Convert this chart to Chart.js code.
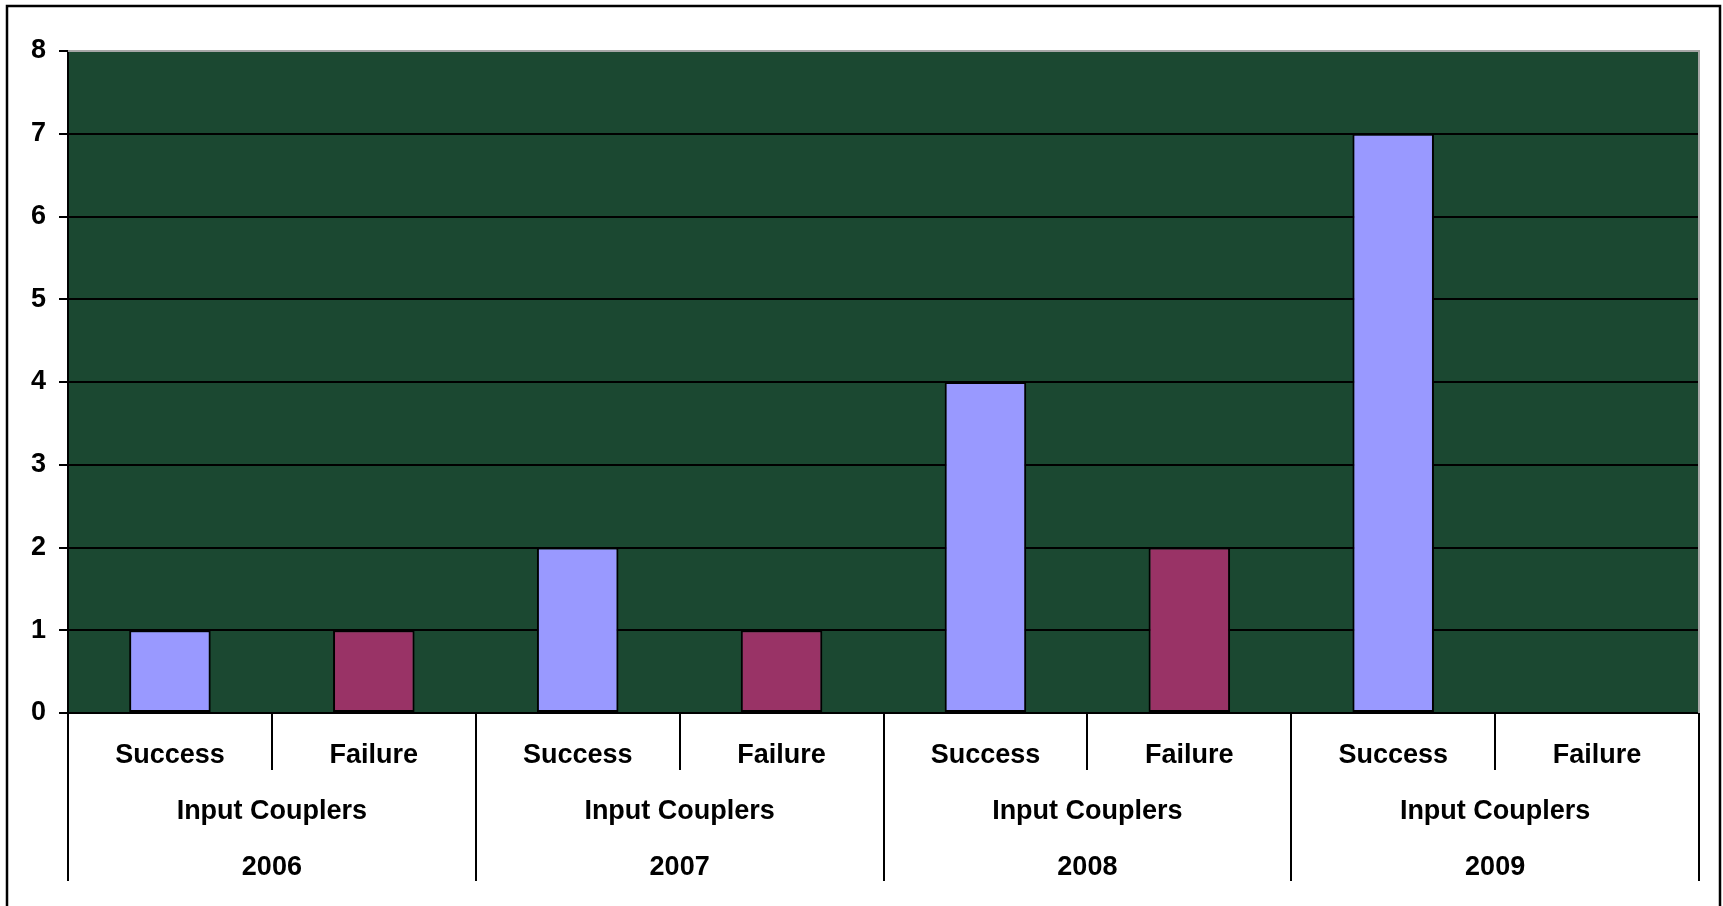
<!DOCTYPE html>
<html>
<head>
<meta charset="utf-8">
<script src="https://cdn.jsdelivr.net/npm/chart.js@4"></script>
<style>
  html, body { margin: 0; padding: 0; background: #ffffff; }
  #wrap { width: 1723px; height: 906px; }
</style>
</head>
<body>
<div id="wrap"><canvas id="c" width="1723" height="906"></canvas></div>
<script>
// Counts per year, split by outcome
const years = ['2006', '2007', '2008', '2009'];
const component = 'Input Couplers';
const outcomes = ['Success', 'Failure'];
const successCounts = [1, 2, 4, 7];
const failureCounts = [1, 1, 2, 0];
const yTicks = [0, 1, 2, 3, 4, 5, 6, 7, 8];

const outcomeColors = { Success: '#9999FF', Failure: '#993366' };
const FONT = '"Liberation Sans", Arial, sans-serif';

Chart.defaults.font.family = FONT;
Chart.defaults.font.weight = 'bold';
Chart.defaults.color = '#000000';

// Flatten into one category per (year, outcome)
const labels = [];
const values = [];
const colors = [];
years.forEach((y, i) => {
  outcomes.forEach(o => {
    labels.push(o);
    values.push(o === 'Success' ? successCounts[i] : failureCounts[i]);
    colors.push(outcomeColors[o]);
  });
});

// Plot background, frame and the multi-level category axis
const framePlugin = {
  id: 'frame',
  beforeDraw(chart) {
    const { ctx, chartArea: a } = chart;
    ctx.save();
    ctx.fillStyle = '#1B4831';
    ctx.fillRect(a.left, a.top, a.right - a.left, a.bottom - a.top);
    ctx.restore();
  },
  afterDraw(chart) {
    const { ctx, chartArea: a } = chart;
    const xs = chart.scales.x;
    const n = labels.length;
    const per = outcomes.length;
    const px = i => xs.getPixelForValue(i);
    const half = (px(1) - px(0)) / 2;

    ctx.save();
    // plot area border (top / right)
    ctx.strokeStyle = '#A6A6A6';
    ctx.lineWidth = 2;
    ctx.beginPath();
    ctx.moveTo(a.left, a.top);
    ctx.lineTo(a.right, a.top);
    ctx.lineTo(a.right, a.bottom);
    ctx.stroke();

    // category separators
    ctx.strokeStyle = '#000000';
    ctx.lineWidth = 2;
    for (let i = 0; i <= n; i++) {
      const x = i === n ? px(n - 1) + half : px(i) - half;
      const groupEdge = i % per === 0;
      ctx.beginPath();
      ctx.moveTo(Math.round(x), a.bottom);
      ctx.lineTo(Math.round(x), groupEdge ? a.bottom + 168 : a.bottom + 57);
      ctx.stroke();
    }

    // labels
    ctx.fillStyle = '#000000';
    ctx.textAlign = 'center';
    ctx.textBaseline = 'alphabetic';
    ctx.font = 'bold 27px ' + FONT;
    for (let i = 0; i < n; i++) {
      ctx.fillText(labels[i], px(i), a.bottom + 50);
    }
    years.forEach((y, g) => {
      const cx = (px(g * per) + px(g * per + per - 1)) / 2;
      ctx.fillText(component, cx, a.bottom + 106);
      ctx.fillText(y, cx, a.bottom + 162);
    });

    // outer chart border
    ctx.lineWidth = 2.5;
    ctx.strokeRect(7, 6, 1713, 905);
    ctx.restore();
  }
};

new Chart(document.getElementById('c'), {
  type: 'bar',
  data: {
    labels: labels,
    datasets: [{
      data: values,
      backgroundColor: colors,
      borderColor: '#000000',
      borderWidth: 2,
      borderSkipped: false,
      barPercentage: 0.4,
      categoryPercentage: 1.0
    }]
  },
  options: {
    responsive: false,
    animation: false,
    events: [],
    layout: { padding: { top: 51, right: 24, left: 0, bottom: 0 } },
    plugins: {
      legend: { display: false },
      tooltip: { enabled: false },
      title: { display: false }
    },
    scales: {
      x: {
        type: 'category',
        grid: { display: false, drawTicks: false },
        border: { display: true, color: '#000000', width: 2 },
        ticks: { display: false },
        afterFit(scale) { scale.height = 193; }
      },
      y: {
        min: yTicks[0],
        max: yTicks[yTicks.length - 1],
        afterBuildTicks(scale) { scale.ticks = yTicks.map(v => ({ value: v })); },
        grid: {
          color: ctx => (ctx.tick && ctx.tick.value === yTicks[yTicks.length - 1]) ? '#A6A6A6' : '#000000',
          tickColor: '#000000',
          lineWidth: 2,
          tickLength: 9,
          drawTicks: true
        },
        border: { display: true, color: '#000000', width: 2 },
        ticks: {
          color: '#000000',
          padding: 13,
          font: { family: FONT, size: 27, weight: 'bold' }
        },
        afterFit(scale) { scale.width = 68; }
      }
    }
  },
  plugins: [framePlugin]
});
</script>
</body>
</html>
